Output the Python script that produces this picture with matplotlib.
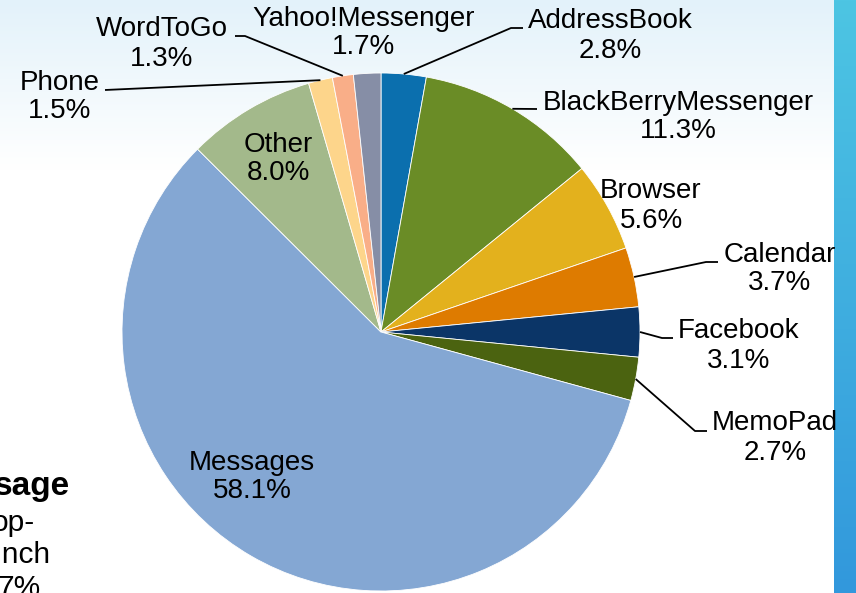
import numpy as np
import matplotlib
matplotlib.use("Agg")
import matplotlib.pyplot as plt

# ---- data ----
categories = ["AddressBook", "BlackBerryMessenger", "Browser", "Calendar", "Facebook",
              "MemoPad", "Messages", "Other", "Phone", "WordToGo", "Yahoo!Messenger"]
shares = [2.8, 11.3, 5.6, 3.7, 3.1, 2.7, 58.1, 8.0, 1.5, 1.3, 1.7]
colors = ["#0b6fae", "#6a8c26", "#e3b11d", "#de7b00", "#0b3567", "#4b6310",
          "#84a7d3", "#a3b98b", "#fdd58b", "#f9ae88", "#868ea6"]
side_texts = ["sage", "op-", "unch", "7%"]

# ---- layout (pixels) ----
W, H = 856, 593
CX, CY, R = 381, 332, 259

def px(x, y):
    return ((x - CX) / R, (CY - y) / R)

# label centres (pixels)
label_pos = {
    "AddressBook": (610, 36),
    "BlackBerryMessenger": (678, 117),
    "Browser": (651, 206),
    "Calendar": (780, 269),
    "Facebook": (739, 346),
    "MemoPad": (775, 438),
    "Messages": (252, 477),
    "Other": (278, 159),
    "Phone": (60, 97),
    "WordToGo": (162, 44),
    "Yahoo!Messenger": (364, 33),
}
# leader elbows: (elbow point, end point) in pixels
leaders = {
    "AddressBook": [(511, 28), (523, 28)],
    "BlackBerryMessenger": [(537, 109)],
    "Calendar": [(706, 262), (718, 262)],
    "Facebook": [(662, 338), (673, 338)],
    "MemoPad": [(695, 431), (707, 431)],
    "Phone": [(105, 90)],
    "WordToGo": [(245, 36), (235, 36)],
}

plt.rcParams['font.family'] = ['Liberation Sans', 'DejaVu Sans']
fig = plt.figure(figsize=(W / 100, H / 100), dpi=100)
ax = fig.add_axes([0, 0, 1, 1])
ax.set_axis_off()

x0, y1 = px(0, 0)
x1, y0 = px(W, H)

# background gradient
grad = np.ones((H, 1, 3))
top = np.array([0xe3, 0xf2, 0xfa]) / 255.0
for i in range(H):
    t = min(i / 170.0, 1.0)
    grad[i, 0] = top * (1 - t) + np.array([1, 1, 1]) * t
ax.imshow(grad, extent=[x0, x1, y0, y1], aspect='auto', zorder=0)

# right-hand blue bar
bar = np.zeros((H, 1, 3))
btop = np.array([0x4d, 0xc5, 0xe3]) / 255.0
bbot = np.array([0x32, 0x98, 0xdc]) / 255.0
for i in range(H):
    t = i / (H - 1)
    bar[i, 0] = btop * (1 - t) + bbot * t
bx0, _ = px(834, 0)
ax.imshow(bar, extent=[bx0, x1, y0, y1], aspect='auto', zorder=0.5)

wedges, _ = ax.pie(shares, colors=colors, startangle=90, counterclock=False,
                   radius=1, center=(0, 0),
                   wedgeprops=dict(edgecolor='white', linewidth=0.6))
for w in wedges:
    w.set_zorder(2)

ax.set_xlim(x0, x1)
ax.set_ylim(y0, y1)
ax.set_aspect('equal', adjustable='box')

fs = 20
for w, name, val in zip(wedges, categories, shares):
    lx, ly = px(*label_pos[name])
    ax.text(lx, ly, f"{name}\n{val:.1f}%", ha='center', va='center',
            multialignment='center', fontsize=fs, color='black', zorder=5,
            linespacing=1.15)
    if name in leaders:
        theta = np.deg2rad((w.theta1 + w.theta2) / 2)
        xs = [np.cos(theta)]
        ys = [np.sin(theta)]
        for p in leaders[name]:
            q = px(*p)
            xs.append(q[0]); ys.append(q[1])
        ax.plot(xs, ys, color='black', lw=1.3, zorder=4, solid_capstyle='butt')

# partially visible text box at lower-left (cut by the left edge, as in the reference)
side_layout = [(70, 495, 'bold', 24), (35, 531, 'normal', 21.5),
               (50, 563, 'normal', 21.5), (41, 596, 'normal', 21.5)]
for s, (xr, yb, wt, sz) in zip(side_texts, side_layout):
    tx, ty = px(xr, yb)
    ax.text(tx, ty, s, ha='right', va='baseline', fontsize=sz, fontweight=wt, zorder=5)

fig.savefig("out.png", dpi=100)
